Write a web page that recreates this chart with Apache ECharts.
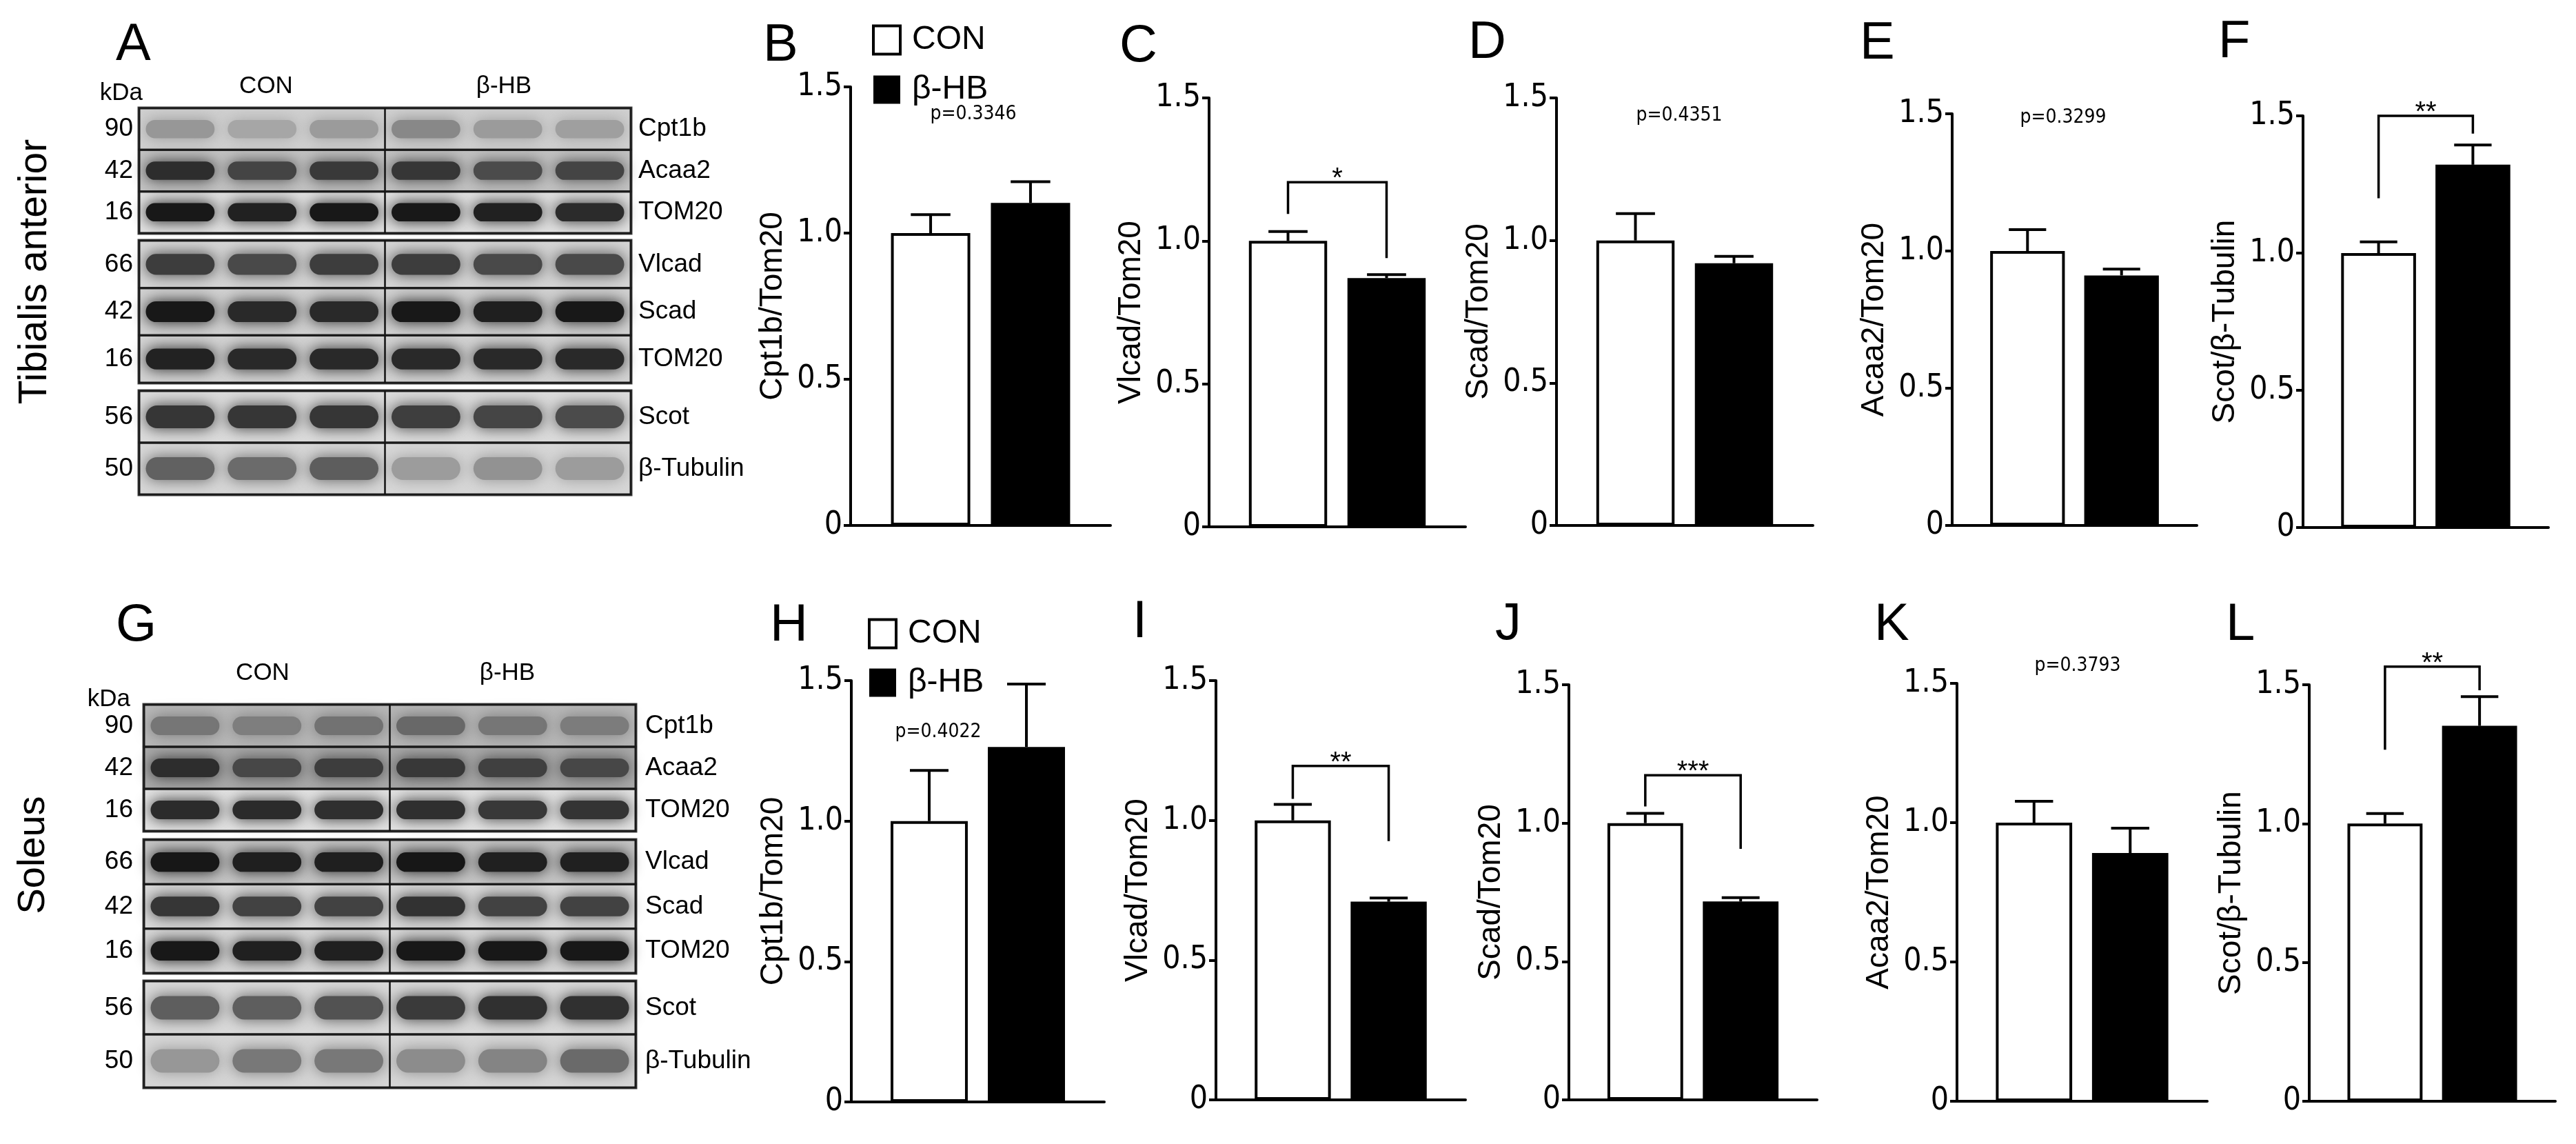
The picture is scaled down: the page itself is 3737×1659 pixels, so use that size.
<!DOCTYPE html>
<html>
<head>
<meta charset="utf-8">
<title>β-HB and fatty acid oxidation proteins</title>
<script src="https://cdn.jsdelivr.net/npm/echarts@6/dist/echarts.min.js"></script>
<style>
html, body { margin: 0; padding: 0; background: #fff; }
#main { width: 3737px; height: 1659px; }
</style>
</head>
<body>
<div id="main"></div>
<script>
// ---- quantification (CON normalised to 1, upper SEM bars) ----
var panels  = ['B', 'C', 'D', 'E', 'F', 'H', 'I', 'J', 'K', 'L'];
var yNames  = ['Cpt1b/Tom20', 'Vlcad/Tom20', 'Scad/Tom20', 'Acaa2/Tom20', 'Scot/β-Tubulin',
               'Cpt1b/Tom20', 'Vlcad/Tom20', 'Scad/Tom20', 'Acaa2/Tom20', 'Scot/β-Tubulin'];
var conMean = [1, 1, 1, 1, 1, 1, 1, 1, 1, 1];
var conSem  = [0.063, 0.033, 0.094, 0.078, 0.041, 0.18, 0.057, 0.035, 0.077, 0.036];
var hbMean  = [1.103, 0.870, 0.920, 0.911, 1.322, 1.264, 0.709, 0.717, 0.891, 1.352];
var hbSem   = [0.073, 0.012, 0.024, 0.023, 0.072, 0.224, 0.013, 0.014, 0.089, 0.105];
var yTicks  = [0, 0.5, 1.0, 1.5];

// significance brackets: panel index, left leg end, right leg end, bracket top, stars
var brackets = [
  [1, 1.094, 0.940, 1.205, '*'],
  [4, 1.200, 1.435, 1.500, '**'],
  [6, 1.077, 0.926, 1.195, '**'],
  [7, 1.060, 0.907, 1.173, '***'],
  [9, 1.266, 1.480, 1.565, '**']
];
var pTexts = ['p=0.3346', 'p=0.4351', 'p=0.3299', 'p=0.4022', 'p=0.3793'];

// ---- western blots ----
var proteins = ['Cpt1b', 'Acaa2', 'TOM20', 'Vlcad', 'Scad', 'TOM20', 'Scot', 'β-Tubulin'];
var kDa      = ['90', '42', '16', '66', '42', '16', '56', '50'];
var groups   = ['CON', 'β-HB'];
// band darkness per row, lanes CON1-3 then β-HB1-3
var taBands = [
  [0.30, 0.22, 0.28, 0.38, 0.28, 0.26],
  [0.85, 0.72, 0.78, 0.80, 0.68, 0.72],
  [0.97, 0.93, 0.97, 0.97, 0.93, 0.88],
  [0.78, 0.72, 0.78, 0.78, 0.72, 0.72],
  [0.97, 0.88, 0.88, 0.97, 0.93, 0.97],
  [0.92, 0.88, 0.88, 0.88, 0.88, 0.88],
  [0.82, 0.82, 0.82, 0.78, 0.75, 0.72],
  [0.60, 0.55, 0.62, 0.30, 0.35, 0.30]
];
var taBg = [208, 196, 226, 214, 210, 212, 220, 215];
var soBands = [
  [0.40, 0.35, 0.42, 0.48, 0.40, 0.36],
  [0.82, 0.65, 0.72, 0.75, 0.70, 0.65],
  [0.88, 0.88, 0.86, 0.86, 0.82, 0.84],
  [0.97, 0.93, 0.93, 0.97, 0.92, 0.92],
  [0.82, 0.76, 0.76, 0.84, 0.76, 0.76],
  [0.97, 0.93, 0.93, 0.97, 0.97, 0.97],
  [0.62, 0.62, 0.68, 0.80, 0.85, 0.85],
  [0.32, 0.48, 0.48, 0.38, 0.42, 0.55]
];
var soBg = [184, 170, 228, 198, 218, 216, 218, 214];

// ---- layout (px) ----
var barGrid = [
  [1234, 126, 377, 636], [1754, 142, 372, 622], [2258, 142, 372, 620], [2832, 165, 355, 597], [3341, 168, 356, 597],
  [1235, 987, 367, 611], [1764, 987, 362, 608], [2276, 993, 360, 602], [2839, 991, 363, 606], [3350, 993, 357, 604]
];
var pPos = [[1412, 166], [2436, 168], [2993, 171], [1361, 1062], [3014, 966]];
var blotGrid = [
  [202, 157, 713, 181], [202, 349, 713, 206], [202, 567, 713, 150],
  [209, 1022, 713, 183], [209, 1218, 713, 193], [209, 1423, 713, 154]
];
var blockRows = [[0, 3], [3, 6], [6, 8]];
var letterPos = [['A', 168, 66], ['B', 1107, 67], ['C', 1624, 68], ['D', 2130, 63], ['E', 2698, 64], ['F', 3218, 62],
                 ['G', 168, 908], ['H', 1117, 908], ['I', 1643, 903], ['J', 2169, 906], ['K', 2719, 907], ['L', 3229, 907]];

var SANS = 'Liberation Sans, Arial, sans-serif';
var NARROW = 'Liberation Sans Narrow, DejaVu Sans Condensed, sans-serif';
var BAR_W = 0.305, BAR_GAP = 0.26;

function renderErr(params, api) {
  var band = api.size([1, 0])[0];
  var bw = band * BAR_W;
  var off = api.value(3) * bw * (1 + BAR_GAP) / 2;
  var base = api.coord([0, api.value(1)]);
  var top = api.coord([0, api.value(1) + api.value(2)]);
  var x = base[0] + off;
  return {
    type: 'group',
    children: [
      { type: 'line', shape: { x1: x, y1: base[1], x2: x, y2: top[1] }, style: { stroke: '#000', lineWidth: 4 } },
      { type: 'line', shape: { x1: x - bw / 4, y1: top[1], x2: x + bw / 4, y2: top[1] }, style: { stroke: '#000', lineWidth: 4 } }
    ]
  };
}

function makeBracket(stars) {
  return function (params, api) {
    var band = api.size([1, 0])[0];
    var off = band * BAR_W * (1 + BAR_GAP) / 2;
    var c = api.coord([0, api.value(3)]);
    var yl = api.coord([0, api.value(1)])[1];
    var yr = api.coord([0, api.value(2)])[1];
    var xl = c[0] - off, xr = c[0] + off, yt = c[1];
    return {
      type: 'group',
      children: [
        { type: 'polyline', shape: { points: [[xl, yl], [xl, yt], [xr, yt], [xr, yr]] },
          style: { stroke: '#000', lineWidth: 3.5, fill: null } },
        { type: 'text', style: { text: stars, x: c[0], y: yt - 4, align: 'center', verticalAlign: 'middle',
          font: '40px ' + SANS, fill: '#000' } }
      ]
    };
  };
}

function gray(v) { return 'rgb(' + v + ',' + v + ',' + v + ')'; }

function renderRow(params, api) {
  var cs = params.coordSys;
  var c = api.coord([0, api.value(1)]);
  var h = api.size([0, 1])[1];
  return { type: 'rect', shape: { x: cs.x, y: c[1] - h / 2, width: cs.width, height: h },
           style: { fill: gray(api.value(2)) } };
}

function renderBand(params, api) {
  var c = api.coord([api.value(0) + 0.5, api.value(1)]);
  var s = api.size([1, 1]);
  var w = s[0] * 0.84, h = s[1] * 0.44;
  var bg = api.value(3), d = api.value(2);
  var col = gray(Math.round(bg - d * (bg - 18)));
  return { type: 'rect', shape: { x: c[0] - w / 2, y: c[1] - h / 2, width: w, height: h, r: h / 2 },
           style: { fill: col, shadowBlur: 22, shadowColor: col } };
}

function renderFrame(params, api) {
  var cs = params.coordSys;
  var c = api.coord([3, api.value(1)]);
  var h = api.size([0, 1])[1];
  return {
    type: 'group',
    children: [
      { type: 'rect', shape: { x: cs.x, y: c[1] - h / 2, width: cs.width, height: h },
        style: { fill: 'transparent', stroke: '#1a1a1a', lineWidth: 3 } },
      { type: 'line', shape: { x1: c[0], y1: c[1] - h / 2, x2: c[0], y2: c[1] + h / 2 },
        style: { stroke: '#111', lineWidth: 2.5 } }
    ]
  };
}

var grid = [], xAxis = [], yAxis = [], series = [];

panels.forEach(function (p, i) {
  var g = barGrid[i];
  grid.push({ left: g[0], top: g[1], width: g[2], height: g[3], containLabel: false, outerBoundsMode: 'none' });
  xAxis.push({
    type: 'category', gridIndex: i, data: ['ratio'],
    axisLine: { lineStyle: { color: '#000', width: 4 } },
    axisTick: { show: false }, axisLabel: { show: false }, splitLine: { show: false }
  });
  yAxis.push({
    type: 'value', gridIndex: i, min: yTicks[0], max: yTicks[yTicks.length - 1], interval: 0.5,
    name: yNames[i], nameLocation: 'middle', nameGap: 90, nameRotate: 90,
    nameTextStyle: { fontSize: 46, fontFamily: SANS, color: '#000' },
    axisLine: { show: true, lineStyle: { color: '#000', width: 4 } },
    axisTick: { show: true, length: 10, lineStyle: { color: '#000', width: 4 } },
    axisLabel: { fontSize: 46, fontFamily: NARROW, color: '#000', margin: 12,
      formatter: function (v) { return v === 0 ? '0' : v.toFixed(1); } },
    splitLine: { show: false }
  });
  series.push({
    type: 'bar', name: 'CON', xAxisIndex: i, yAxisIndex: i, data: [conMean[i]],
    barWidth: (BAR_W * 100) + '%', barGap: (BAR_GAP * 100) + '%',
    itemStyle: { color: '#fff', borderColor: '#000', borderWidth: 4 }, silent: true
  });
  series.push({
    type: 'bar', name: 'β-HB', xAxisIndex: i, yAxisIndex: i, data: [hbMean[i]],
    barWidth: (BAR_W * 100) + '%', barGap: (BAR_GAP * 100) + '%',
    itemStyle: { color: '#000' }, silent: true
  });
  series.push({
    type: 'custom', xAxisIndex: i, yAxisIndex: i, z: 3, silent: true,
    encode: { x: 0, y: 1 },
    data: [[0, conMean[i], conSem[i], -1], [0, hbMean[i], hbSem[i], 1]],
    renderItem: renderErr
  });
});

brackets.forEach(function (b) {
  series.push({
    type: 'custom', xAxisIndex: b[0], yAxisIndex: b[0], z: 4, silent: true, clip: false,
    encode: { x: 0, y: 3 },
    data: [[0, b[1], b[2], b[3]]],
    renderItem: makeBracket(b[4])
  });
});

blotGrid.forEach(function (g, k) {
  var so = k >= 3;
  var blk = blockRows[k % 3];
  var bands = so ? soBands : taBands;
  var bg = so ? soBg : taBg;
  var gi = grid.length;
  grid.push({ left: g[0], top: g[1], width: g[2], height: g[3], show: true,
    borderColor: '#4a4a4a', borderWidth: 5, backgroundColor: 'transparent', outerBoundsMode: 'none' });
  xAxis.push({ type: 'value', gridIndex: gi, min: 0, max: 6, show: false });
  var yi = yAxis.length;
  yAxis.push({
    type: 'category', gridIndex: gi, inverse: true, data: kDa.slice(blk[0], blk[1]),
    axisLine: { show: false }, axisTick: { show: false }, splitLine: { show: false },
    axisLabel: { fontSize: 37, fontFamily: SANS, color: '#000', margin: so ? 16 : 9 }
  });
  yAxis.push({
    type: 'category', gridIndex: gi, inverse: true, position: 'right', data: proteins.slice(blk[0], blk[1]),
    axisLine: { show: false }, axisTick: { show: false }, splitLine: { show: false },
    axisLabel: { fontSize: 37, fontFamily: SANS, color: '#000', margin: so ? 14 : 11 }
  });
  var rowData = [], bandData = [];
  for (var r = blk[0]; r < blk[1]; r++) {
    rowData.push([0, r - blk[0], bg[r]]);
    bands[r].forEach(function (d, lane) { bandData.push([lane, r - blk[0], d, bg[r]]); });
  }
  series.push({ type: 'custom', xAxisIndex: gi, yAxisIndex: yi, z: 1, silent: true, data: rowData, renderItem: renderRow });
  series.push({ type: 'custom', xAxisIndex: gi, yAxisIndex: yi, z: 2, silent: true, data: bandData, renderItem: renderBand });
  series.push({ type: 'custom', xAxisIndex: gi, yAxisIndex: yi, z: 3, silent: true, data: rowData, renderItem: renderFrame });
});

var graphic = [];
letterPos.forEach(function (l) {
  graphic.push({ type: 'text', x: l[1], y: l[2], style: { text: l[0], font: '76px ' + SANS, fill: '#000', verticalAlign: 'middle' } });
});
pTexts.forEach(function (t, i) {
  graphic.push({ type: 'text', x: pPos[i][0], y: pPos[i][1],
    style: { text: t, font: '28px ' + NARROW, fill: '#000', align: 'center', verticalAlign: 'middle' } });
});
[[386, 125, 0], [731, 125, 1], [381, 976, 0], [736, 976, 1]].forEach(function (h) {
  graphic.push({ type: 'text', x: h[0], y: h[1],
    style: { text: groups[h[2]], font: '35px ' + SANS, fill: '#000', align: 'center', verticalAlign: 'middle' } });
});
graphic.push({ type: 'text', x: 207, y: 135, style: { text: 'kDa', font: '35px ' + SANS, fill: '#000', align: 'right', verticalAlign: 'middle' } });
graphic.push({ type: 'text', x: 189, y: 1014, style: { text: 'kDa', font: '35px ' + SANS, fill: '#000', align: 'right', verticalAlign: 'middle' } });
graphic.push({ type: 'text', x: 51, y: 394, rotation: Math.PI / 2,
  style: { text: 'Tibialis anterior', font: '57px ' + SANS, fill: '#000', align: 'center', verticalAlign: 'middle' } });
graphic.push({ type: 'text', x: 49, y: 1240, rotation: Math.PI / 2,
  style: { text: 'Soleus', font: '56px ' + SANS, fill: '#000', align: 'center', verticalAlign: 'middle' } });

var legendData = [
  { name: 'CON', itemStyle: { color: '#fff', borderColor: '#000', borderWidth: 4 } },
  { name: 'β-HB', itemStyle: { color: '#000', borderWidth: 0 } }
];
function legendAt(left, top, gap) {
  return {
    data: legendData, left: left, top: top, orient: 'vertical', icon: 'rect',
    itemWidth: 39, itemHeight: 41, itemGap: gap, selectedMode: false,
    textStyle: { fontSize: 48, fontFamily: SANS, color: '#000', padding: [0, 0, 0, 12] }
  };
}

var chart = echarts.init(document.getElementById('main'), null, { renderer: 'canvas' });
chart.setOption({
  backgroundColor: '#fff',
  animation: false,
  legend: [legendAt(1260, 29, 24), legendAt(1254, 890, 23)],
  grid: grid,
  xAxis: xAxis,
  yAxis: yAxis,
  graphic: graphic,
  series: series
});
</script>
</body>
</html>
